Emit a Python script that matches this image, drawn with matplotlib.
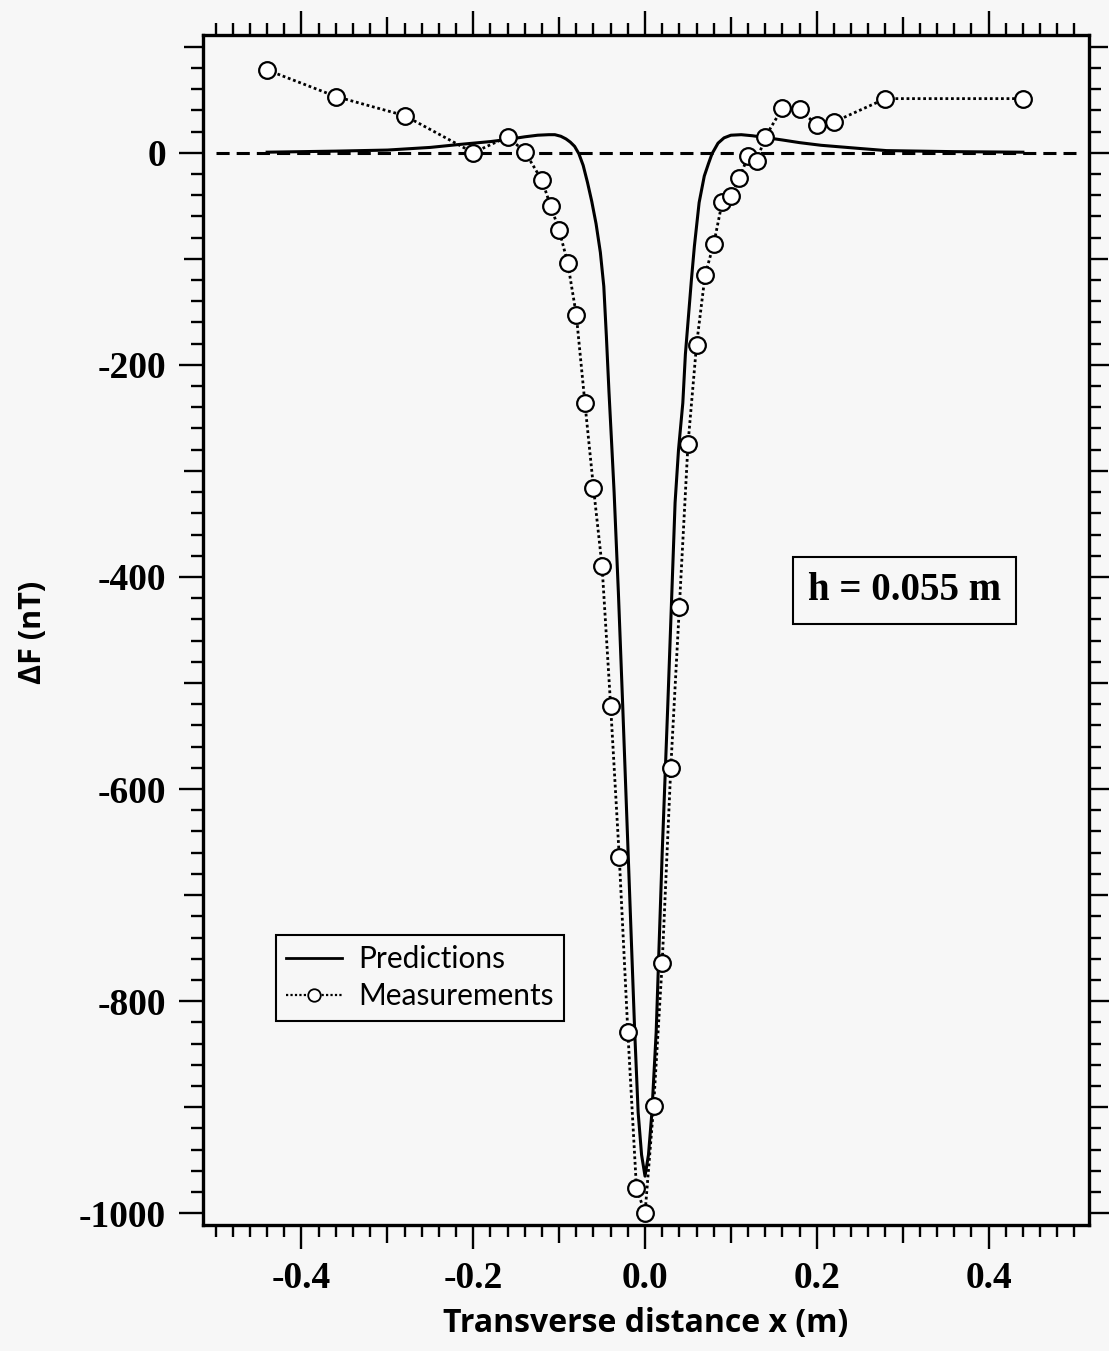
import matplotlib
matplotlib.use("Agg")
import matplotlib.pyplot as plt
import numpy as np
from matplotlib.lines import Line2D

# measured anomaly (open circles)
meas_x = [-0.44, -0.36, -0.28, -0.20, -0.16, -0.14, -0.12, -0.11, -0.10, -0.09,
          -0.08, -0.07, -0.06, -0.05, -0.04, -0.03, -0.02, -0.01, 0.00, 0.01,
          0.02, 0.03, 0.04, 0.05, 0.06, 0.07, 0.08, 0.09, 0.10, 0.11,
          0.12, 0.13, 0.14, 0.16, 0.18, 0.20, 0.22, 0.28, 0.44]
meas_y = [78, 53, 35, 0, 15, 1, -26, -50, -73, -104,
          -153, -236, -316, -390, -522, -664, -829, -976, -1000, -899,
          -764, -580, -428, -275, -181, -115, -86, -46, -41, -24,
          -3, -8, 15, 42, 41, 26, 29, 51, 51]

# predicted anomaly (solid line)
pred_x = [-0.44, -0.36, -0.30, -0.25, -0.216, -0.18, -0.16, -0.14, -0.125, -0.112,
          -0.105, -0.098, -0.092, -0.087, -0.082, -0.077, -0.072, -0.067, -0.062, -0.057,
          -0.052, -0.048, -0.045, -0.042, -0.039, -0.036, -0.031, -0.026, -0.020, -0.016,
          -0.012, -0.008, -0.004, 0.0,
          0.004, 0.008, 0.013, 0.020, 0.0265, 0.031, 0.035, 0.039, 0.044, 0.047,
          0.050, 0.054, 0.0575, 0.063, 0.069, 0.074, 0.078, 0.085, 0.092, 0.100,
          0.112, 0.125, 0.143, 0.16, 0.18, 0.205, 0.25, 0.281, 0.36, 0.44]
pred_y = [0.5, 1.5, 2.5, 5, 7.8, 10.5, 12.5, 15, 16.5, 17,
          17, 15.5, 13, 10, 6, -1, -12, -28, -46, -67,
          -94, -126, -173, -225, -272, -320, -415, -521, -653, -741,
          -829, -905, -945, -965,
          -945, -905, -829, -660, -521, -420, -330, -280, -236, -190,
          -160, -120, -88, -47, -22, -10, -1, 9, 14, 16.5,
          17, 16, 14, 12, 9.5, 7, 4, 2, 1, 0.5]

x_major = [-0.4, -0.2, 0.0, 0.2, 0.4]
x_labels = ["-0.4", "-0.2", "0.0", "0.2", "0.4"]
x_medium = [-0.3, -0.1, 0.1, 0.3]
y_major = [0, -200, -400, -600, -800, -1000]
y_labels = ["0", "-200", "-400", "-600", "-800", "-1000"]
y_medium = [100, -100, -300, -500, -700, -900]

bg = "#f7f7f7"
serif_bold = dict(family="Liberation Serif", weight="bold")

fig = plt.figure(figsize=(11.09, 13.51), dpi=100, facecolor=bg)
ax = fig.add_axes([0.1828, 0.0933, 0.7992, 0.8808], facecolor=bg)

ax.axhline(0, xmin=0.015, xmax=0.985, color="black", lw=2.2, ls=(0, (4.3, 2.3)), zorder=1)
ax.plot(pred_x, pred_y, color="black", lw=2.2, zorder=2)
ax.plot(meas_x, meas_y, color="black", lw=2.0, ls=(0, (1, 1)), marker="o", ms=12,
        mfc="white", mec="black", mew=1.6, zorder=3)

ax.set_xlim(-0.515, 0.517)
ax.set_ylim(-1011, 111)

# major ticks carry labels; the in-between ones get a medium length
xt = sorted(x_major + x_medium)
ax.set_xticks(xt, [x_labels[x_major.index(v)] if v in x_major else "" for v in xt])
ax.set_xticks(np.arange(-0.5, 0.501, 0.02), minor=True)
yt = sorted(y_major + y_medium)
ax.set_yticks(yt, [y_labels[y_major.index(v)] if v in y_major else "" for v in yt])
ax.set_yticks(np.arange(-1000, 101, 20), minor=True)

ax.tick_params(which="both", direction="out", top=True, right=True, width=1.7)
ax.tick_params(which="major", length=17.3, pad=9)
ax.tick_params(which="minor", length=8.5)
for v, t in zip(xt, ax.xaxis.get_major_ticks()):
    if v in x_medium:
        t.tick1line.set_markersize(13)
        t.tick2line.set_markersize(13)
for v, t in zip(yt, ax.yaxis.get_major_ticks()):
    if v in y_medium:
        t.tick1line.set_markersize(13.5)
        t.tick2line.set_markersize(13.5)

for lab in ax.get_xticklabels() + ax.get_yticklabels():
    lab.set_fontproperties(serif_bold)
    lab.set_fontsize(27)

for s in ax.spines.values():
    s.set_linewidth(2.4)

ax.set_xlabel("Transverse distance x (m)", family="Open Sans", weight="bold",
              fontsize=23, va="baseline")
ax.xaxis.set_label_coords(0.5, -0.0897)
ax.set_ylabel("ΔF (nT)", family="Open Sans", weight="bold", fontsize=22, va="center")
ax.yaxis.set_label_coords(-0.1915, 0.4983)

ax.text(0.792, 0.5334, "h = 0.055 m", transform=ax.transAxes, ha="center", va="center",
        fontsize=28, **serif_bold,
        bbox=dict(boxstyle="square,pad=0.38", fc=bg, ec="black", lw=1.5))

handles = [Line2D([], [], color="black", lw=2.0),
           Line2D([], [], color="black", lw=1.6, ls=(0, (1, 1)), marker="o", ms=9,
                  mfc="white", mec="black", mew=1.3)]
leg = ax.legend(handles, ["Predictions", "Measurements"], loc="upper left",
                bbox_to_anchor=(0.0827, 0.2437), borderaxespad=0, fancybox=False,
                prop=dict(family="Lato", size=21.5), handlelength=1.85, handletextpad=0.55,
                borderpad=0.35, labelspacing=0.3, framealpha=1, facecolor=bg)
leg.get_frame().set_edgecolor("black")
leg.get_frame().set_linewidth(1.5)

fig.savefig("out.png", dpi=100, facecolor=bg)
